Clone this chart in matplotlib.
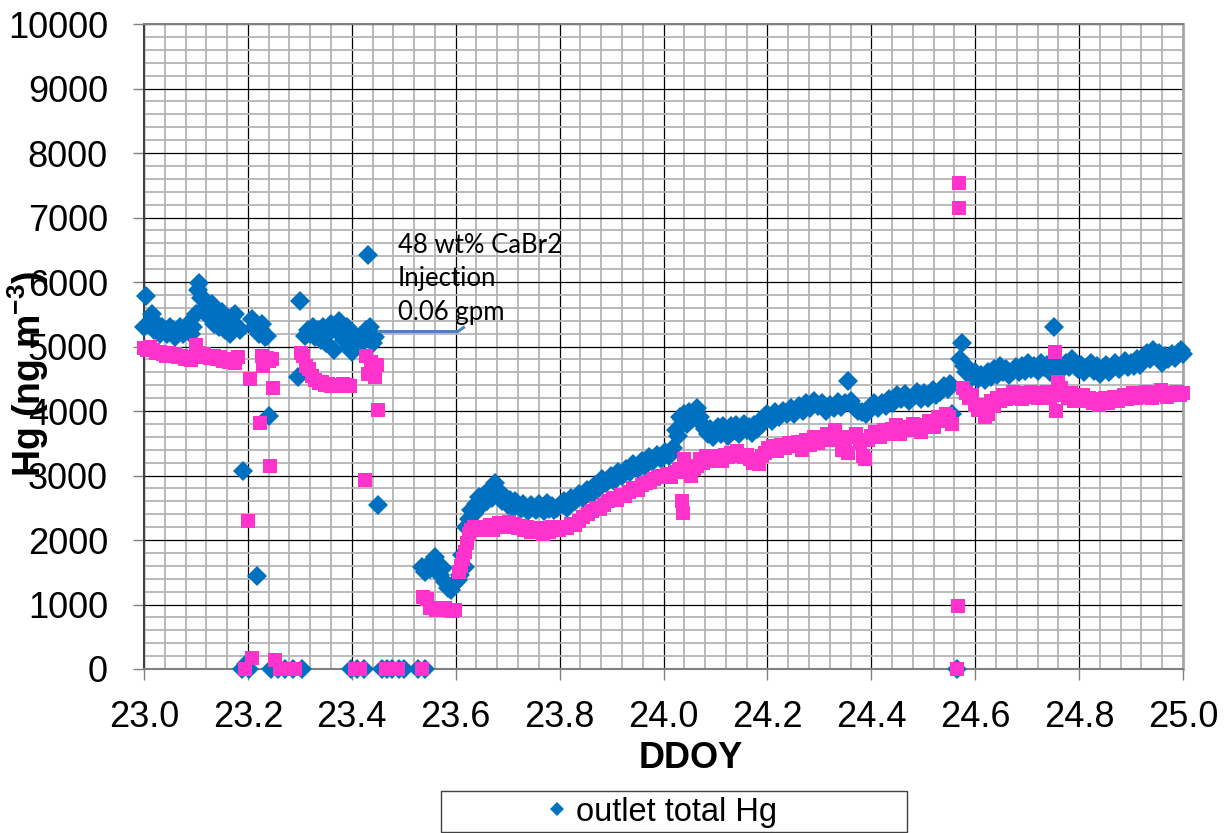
import matplotlib
matplotlib.use("Agg")
import matplotlib.pyplot as plt
from matplotlib.patches import Rectangle
from matplotlib.lines import Line2D
from matplotlib.ticker import MultipleLocator, FormatStrFormatter

# outlet total Hg (blue diamonds): (DDOY, ng m-3)
outlet_pts = [
    (23.000, 5300), (23.004, 5780), (23.008, 5350), (23.015, 5500), (23.020, 5250),
    (23.025, 5350), (23.030, 5200), (23.035, 5300), (23.040, 5250), (23.045, 5200),
    (23.050, 5300), (23.055, 5250), (23.060, 5150), (23.065, 5250), (23.070, 5300),
    (23.075, 5200), (23.080, 5250), (23.085, 5350), (23.090, 5200), (23.095, 5300),
    (23.100, 5500), (23.103, 5870), (23.106, 5990), (23.110, 5750), (23.115, 5600),
    (23.120, 5700), (23.125, 5450), (23.130, 5660), (23.135, 5350), (23.140, 5450),
    (23.145, 5300), (23.150, 5530), (23.155, 5250), (23.160, 5350), (23.165, 5200),
    (23.170, 5450), (23.175, 5510), (23.180, 5300), (23.185, 5250),
    (23.188, 0), (23.191, 3065), (23.196, 80), (23.202, 0), (23.207, 5430),
    (23.212, 5300), (23.217, 1440), (23.222, 5200), (23.228, 5350), (23.232, 5150),
    (23.236, 5170), (23.240, 3930), (23.245, 0), (23.258, 0), (23.272, 0),
    (23.286, 0), (23.296, 4520), (23.300, 5710), (23.305, 0),
    (23.310, 5170), (23.315, 5250), (23.320, 5200), (23.325, 5300), (23.330, 5150),
    (23.335, 5250), (23.340, 5100), (23.345, 5300), (23.350, 5050), (23.355, 5200),
    (23.360, 5350), (23.365, 4940), (23.370, 5250), (23.375, 5400), (23.380, 5200),
    (23.385, 5100), (23.390, 5300), (23.395, 5000), (23.398, 0), (23.400, 4910),
    (23.405, 5200), (23.410, 0), (23.415, 5100), (23.420, 5050), (23.424, 0),
    (23.428, 5250), (23.431, 6420), (23.435, 5300), (23.440, 5060), (23.444, 5150),
    (23.450, 2550), (23.458, 0), (23.468, 0), (23.478, 0), (23.490, 0),
    (23.500, 0), (23.528, 0), (23.540, 0),
    (23.535, 1580), (23.540, 1500), (23.545, 1600), (23.550, 1550), (23.555, 1650),
    (23.560, 1730), (23.565, 1550), (23.570, 1450), (23.575, 1560), (23.580, 1350),
    (23.585, 1250), (23.590, 1220), (23.595, 1300), (23.600, 1350), (23.604, 1380),
    (23.608, 1450), (23.612, 1760), (23.617, 1580),
    (23.620, 2200), (23.625, 2330), (23.630, 2460), (23.635, 2400), (23.640, 2560),
    (23.645, 2660), (23.650, 2550), (23.655, 2700), (23.660, 2600), (23.665, 2770),
    (23.670, 2650), (23.675, 2880), (23.680, 2700), (23.685, 2750), (23.690, 2600),
    (23.695, 2660), (23.700, 2550), (23.705, 2620), (23.710, 2500), (23.715, 2600),
    (23.720, 2550), (23.725, 2480), (23.730, 2560), (23.735, 2500), (23.740, 2450),
    (23.745, 2550), (23.750, 2500), (23.755, 2470), (23.760, 2560), (23.765, 2500),
    (23.770, 2450), (23.775, 2570), (23.780, 2480), (23.785, 2520), (23.790, 2460),
    (23.795, 2500), (23.800, 2540),
    (23.808, 2600), (23.815, 2500), (23.822, 2650), (23.830, 2600), (23.838, 2720),
    (23.845, 2650), (23.852, 2780), (23.860, 2700), (23.868, 2850), (23.875, 2800),
    (23.882, 2950), (23.890, 2880), (23.898, 3000), (23.905, 2920), (23.912, 3060),
    (23.920, 3000), (23.928, 3100), (23.935, 3050), (23.942, 3180), (23.950, 3100),
    (23.958, 3230), (23.965, 3150), (23.972, 3280), (23.980, 3220), (23.988, 3320),
    (23.995, 3250), (24.002, 3360), (24.010, 3300), (24.018, 3420),
    (24.024, 3700), (24.028, 3620), (24.032, 3900), (24.036, 3880), (24.040, 3950),
    (24.045, 3800), (24.050, 3980), (24.055, 3880), (24.060, 4000), (24.065, 4040),
    (24.070, 3900), (24.075, 3800), (24.080, 3720), (24.085, 3650),
    (24.090, 3720), (24.095, 3600), (24.100, 3680), (24.105, 3750), (24.110, 3650),
    (24.115, 3760), (24.120, 3700), (24.125, 3620), (24.130, 3760), (24.135, 3700),
    (24.140, 3780), (24.145, 3650), (24.150, 3720), (24.155, 3800), (24.160, 3700),
    (24.165, 3750), (24.170, 3660), (24.175, 3780), (24.180, 3720), (24.185, 3850),
    (24.190, 3800), (24.195, 3920), (24.200, 3960),
    (24.208, 3850), (24.215, 3980), (24.222, 3900), (24.230, 4000), (24.238, 3950),
    (24.245, 4050), (24.252, 3950), (24.260, 4080), (24.268, 4000), (24.275, 4130),
    (24.282, 4050), (24.290, 4150), (24.298, 4080), (24.305, 4120), (24.312, 4000),
    (24.320, 4100), (24.328, 4050), (24.335, 4140), (24.342, 4060), (24.350, 4120),
    (24.355, 4470), (24.360, 4150), (24.368, 4050), (24.375, 4000), (24.382, 3980),
    (24.390, 3950), (24.398, 4060), (24.405, 4120), (24.412, 4050), (24.420, 4130),
    (24.428, 4080), (24.435, 4180), (24.442, 4120), (24.450, 4250), (24.458, 4180),
    (24.465, 4260), (24.472, 4150), (24.480, 4220), (24.488, 4300), (24.495, 4180),
    (24.502, 4280), (24.510, 4200), (24.518, 4320), (24.525, 4250), (24.532, 4300),
    (24.540, 4380), (24.548, 4340), (24.552, 4420), (24.555, 3950),
    (24.565, 0), (24.570, 4800), (24.574, 5060), (24.578, 4700), (24.582, 4600),
    (24.588, 4650), (24.594, 4520), (24.600, 4600), (24.606, 4500), (24.612, 4560),
    (24.618, 4480), (24.624, 4600), (24.630, 4520), (24.636, 4650), (24.642, 4560),
    (24.648, 4700), (24.654, 4600), (24.660, 4650), (24.666, 4560), (24.672, 4620),
    (24.678, 4680), (24.684, 4600), (24.690, 4700), (24.696, 4620), (24.702, 4750),
    (24.708, 4650), (24.714, 4700), (24.720, 4620), (24.726, 4750), (24.732, 4680),
    (24.738, 4720), (24.744, 4600), (24.750, 4680), (24.752, 5310), (24.756, 4780),
    (24.762, 4700), (24.768, 4650), (24.774, 4750), (24.780, 4680), (24.786, 4800),
    (24.792, 4700), (24.798, 4650), (24.804, 4720), (24.810, 4600), (24.816, 4680),
    (24.822, 4750), (24.828, 4620), (24.834, 4700), (24.840, 4580), (24.846, 4650),
    (24.852, 4720), (24.858, 4600), (24.864, 4680), (24.870, 4750), (24.876, 4650),
    (24.882, 4700), (24.888, 4780), (24.894, 4680), (24.900, 4750), (24.906, 4700),
    (24.912, 4800), (24.918, 4720), (24.924, 4850), (24.930, 4900), (24.936, 4800),
    (24.942, 4950), (24.948, 4850), (24.954, 4900), (24.960, 4750), (24.966, 4850),
    (24.972, 4800), (24.978, 4880), (24.984, 4820), (24.990, 4900), (24.996, 4950),
    (25.000, 4880),
]

# second series (pink squares, not named in the visible legend)
pink_pts = [
    (23.000, 4980), (23.006, 4950), (23.012, 5000), (23.018, 4940), (23.024, 4900),
    (23.030, 4920), (23.036, 4880), (23.042, 4860), (23.048, 4900), (23.054, 4850),
    (23.060, 4880), (23.066, 4830), (23.072, 4850), (23.078, 4800), (23.084, 4820),
    (23.090, 4790), (23.096, 4830), (23.100, 5020), (23.104, 4900), (23.110, 4860),
    (23.116, 4880), (23.122, 4840), (23.128, 4820), (23.134, 4850), (23.140, 4800),
    (23.146, 4830), (23.152, 4780), (23.158, 4800), (23.164, 4760), (23.170, 4780),
    (23.176, 4750), (23.181, 4830),
    (23.195, 0), (23.200, 2290), (23.204, 4500), (23.208, 170), (23.223, 3820),
    (23.227, 4860), (23.230, 4700), (23.236, 4820), (23.240, 4780), (23.242, 3140),
    (23.246, 4810), (23.248, 4350), (23.252, 140), (23.262, 0), (23.276, 0),
    (23.290, 0), (23.302, 4900), (23.306, 4850), (23.312, 4700), (23.318, 4650),
    (23.324, 4550), (23.330, 4480), (23.336, 4430), (23.342, 4450), (23.348, 4400),
    (23.354, 4420), (23.360, 4390), (23.366, 4410), (23.372, 4400), (23.378, 4380),
    (23.384, 4420), (23.390, 4400), (23.396, 4390), (23.406, 0), (23.416, 0),
    (23.425, 2930), (23.428, 4860), (23.432, 4580), (23.436, 4760), (23.440, 4640),
    (23.444, 4520), (23.448, 4720), (23.450, 4010), (23.466, 0), (23.476, 0),
    (23.488, 0), (23.535, 0),
    (23.538, 1120), (23.544, 1080), (23.550, 950), (23.556, 940), (23.562, 920),
    (23.568, 930), (23.574, 910), (23.580, 940), (23.586, 920), (23.592, 900),
    (23.598, 910), (23.606, 1500), (23.610, 1600), (23.614, 1700), (23.618, 1810),
    (23.622, 1950), (23.626, 2100), (23.630, 2150), (23.636, 2200), (23.642, 2180),
    (23.648, 2150), (23.654, 2200), (23.660, 2180), (23.666, 2230), (23.672, 2150),
    (23.678, 2200), (23.684, 2260), (23.690, 2200), (23.696, 2250), (23.702, 2280),
    (23.708, 2200), (23.714, 2250), (23.720, 2180), (23.726, 2220), (23.732, 2150),
    (23.738, 2200), (23.744, 2120), (23.750, 2180), (23.756, 2130), (23.762, 2150),
    (23.768, 2100), (23.774, 2180), (23.780, 2130), (23.786, 2200), (23.792, 2170),
    (23.798, 2150),
    (23.806, 2200), (23.814, 2180), (23.822, 2250), (23.830, 2230), (23.838, 2300),
    (23.846, 2350), (23.854, 2400), (23.862, 2450), (23.870, 2500), (23.878, 2480),
    (23.886, 2550), (23.894, 2600), (23.902, 2650), (23.910, 2620), (23.918, 2700),
    (23.926, 2680), (23.934, 2750), (23.942, 2800), (23.950, 2780), (23.958, 2850),
    (23.966, 2880), (23.974, 2900), (23.982, 2950), (23.990, 2980), (23.998, 3000),
    (24.006, 3020), (24.014, 2980), (24.022, 3050), (24.030, 3100), (24.035, 2600),
    (24.037, 2420), (24.040, 3260), (24.046, 3050), (24.052, 3000), (24.058, 3100),
    (24.064, 3150), (24.070, 3250), (24.076, 3200), (24.082, 3300), (24.088, 3220),
    (24.094, 3280), (24.100, 3250), (24.106, 3300), (24.112, 3230), (24.118, 3320),
    (24.124, 3280), (24.130, 3350), (24.136, 3300), (24.142, 3380), (24.148, 3300),
    (24.154, 3280), (24.160, 3320), (24.166, 3250), (24.172, 3200), (24.178, 3250),
    (24.184, 3180), (24.190, 3300), (24.196, 3350), (24.202, 3420),
    (24.210, 3450), (24.218, 3380), (24.226, 3480), (24.234, 3420), (24.242, 3500),
    (24.250, 3450), (24.258, 3520), (24.266, 3400), (24.274, 3550), (24.282, 3480),
    (24.290, 3600), (24.298, 3500), (24.306, 3580), (24.314, 3650), (24.322, 3550),
    (24.330, 3700), (24.338, 3600), (24.344, 3400), (24.350, 3550), (24.356, 3350),
    (24.362, 3600), (24.370, 3650), (24.378, 3500), (24.384, 3300), (24.388, 3250),
    (24.394, 3550), (24.400, 3620), (24.408, 3680), (24.416, 3600), (24.424, 3700),
    (24.432, 3650), (24.440, 3720), (24.448, 3780), (24.456, 3650), (24.464, 3750),
    (24.472, 3700), (24.480, 3800), (24.488, 3720), (24.496, 3680), (24.504, 3780),
    (24.512, 3850), (24.520, 3750), (24.528, 3900), (24.536, 3850), (24.544, 3950),
    (24.550, 3900), (24.555, 3800),
    (24.565, 0), (24.567, 980), (24.568, 7140), (24.569, 7540),
    (24.576, 4350), (24.582, 4280), (24.588, 4200), (24.594, 4250), (24.600, 4100),
    (24.606, 4020), (24.612, 4100), (24.618, 3900), (24.624, 3960), (24.630, 4150),
    (24.636, 4080), (24.642, 4200), (24.648, 4150), (24.654, 4250), (24.660, 4180),
    (24.666, 4220), (24.672, 4300), (24.678, 4200), (24.684, 4250), (24.690, 4180),
    (24.696, 4280), (24.702, 4220), (24.708, 4300), (24.714, 4250), (24.720, 4200),
    (24.726, 4280), (24.732, 4220), (24.738, 4300), (24.744, 4200), (24.750, 4250),
    (24.754, 4920), (24.756, 4000), (24.760, 4450), (24.766, 4350), (24.772, 4250),
    (24.778, 4200), (24.784, 4280), (24.790, 4150), (24.796, 4220), (24.802, 4180),
    (24.808, 4250), (24.814, 4150), (24.820, 4200), (24.826, 4120), (24.832, 4180),
    (24.838, 4100), (24.844, 4150), (24.850, 4200), (24.856, 4120), (24.862, 4180),
    (24.868, 4220), (24.874, 4150), (24.880, 4200), (24.886, 4250), (24.892, 4180),
    (24.898, 4220), (24.904, 4280), (24.910, 4200), (24.916, 4250), (24.922, 4220),
    (24.928, 4300), (24.934, 4250), (24.940, 4200), (24.946, 4280), (24.952, 4250),
    (24.958, 4320), (24.964, 4250), (24.970, 4220), (24.976, 4280), (24.982, 4250),
    (24.988, 4300), (24.994, 4250), (25.000, 4280),
]

# callout line for the injection note
callout_ddoy = [23.452, 23.604, 23.615]
callout_hg = [5232, 5232, 5294]

outlet_ddoy, outlet_hg = zip(*outlet_pts)
pink_ddoy, pink_hg = zip(*pink_pts)

plt.rcParams['font.family'] = ['Liberation Sans', 'DejaVu Sans']
plt.rcParams['mathtext.fontset'] = 'custom'
plt.rcParams['mathtext.rm'] = 'Liberation Sans'
plt.rcParams['mathtext.bf'] = 'Liberation Sans:bold'

W, H = 1231, 833
fig = plt.figure(figsize=(W / 100, H / 100), dpi=100)
ax = fig.add_axes([144 / W, 1 - 669 / H, (1183 - 144) / W, (669 - 24) / H])

ax.plot(outlet_ddoy, outlet_hg, 'D', color='#0070C0', ms=10.2, mew=0,
        ls='none', clip_on=False, zorder=3)
ax.plot(pink_ddoy, pink_hg, 's', color='#FF33CC', ms=9.6, mew=0,
        ls='none', clip_on=False, zorder=4)

ax.set_xlim(23.0, 25.0)
ax.set_ylim(0, 10000)
ax.xaxis.set_major_locator(MultipleLocator(0.2))
ax.xaxis.set_minor_locator(MultipleLocator(0.04))
ax.yaxis.set_major_locator(MultipleLocator(1000))
ax.yaxis.set_minor_locator(MultipleLocator(200))
ax.xaxis.set_major_formatter(FormatStrFormatter('%.1f'))

ax.set_axisbelow(True)
ax.grid(which='minor', color='#b4b4b4', lw=1.3)
ax.grid(which='major', color='black', lw=0.9)

ax.tick_params(which='major', direction='out', length=8, width=1,
               color='#808080', labelsize=26)
ax.tick_params(axis='y', which='major', pad=18)
ax.tick_params(axis='x', which='major', pad=14)
ax.tick_params(which='minor', length=0)

for side in ['top', 'bottom']:
    ax.spines[side].set_color('#808080')
    ax.spines[side].set_linewidth(1.5)
ax.spines['left'].set_color('#404040')
ax.spines['left'].set_linewidth(1.5)
ax.spines['right'].set_color('#a6a6a6')
ax.spines['right'].set_linewidth(2)

# injection note
ax.text(23.488, 6760, '48 wt% CaBr2\nInjection\n0.06 gpm', family='Lato',
        fontsize=18.5, linespacing=1.42, ha='left', va='top', zorder=5)
ax.plot(callout_ddoy, callout_hg, color='#4F81BD', lw=2.2, clip_on=False, zorder=5)

fig.text(691 / W, 1 - 758 / H, 'DDOY', ha='center', va='center',
         fontsize=26, fontweight='bold')
fig.text(28 / W, 1 - 374 / H, r'Hg (ng m$^{\mathbf{-3}}$)', rotation=90,
         ha='center', va='center', fontsize=27, fontweight='bold')

# legend box (cut off at the bottom of the picture)
fig.add_artist(Rectangle((441 / W, 1 / H), (907 - 441) / W, (832 - 791) / H,
                         transform=fig.transFigure, fill=False,
                         ec='#404040', lw=1))
handle = Line2D([], [], marker='D', color='#0070C0', ls='none', ms=7, mew=0)
fig.legend([handle], ['outlet total Hg'], loc='center',
           bbox_to_anchor=(662 / W, 1 - 812 / H), frameon=False,
           fontsize=23.5, handlelength=0.6, handletextpad=0.3)

fig.savefig('out.png', dpi=100)
